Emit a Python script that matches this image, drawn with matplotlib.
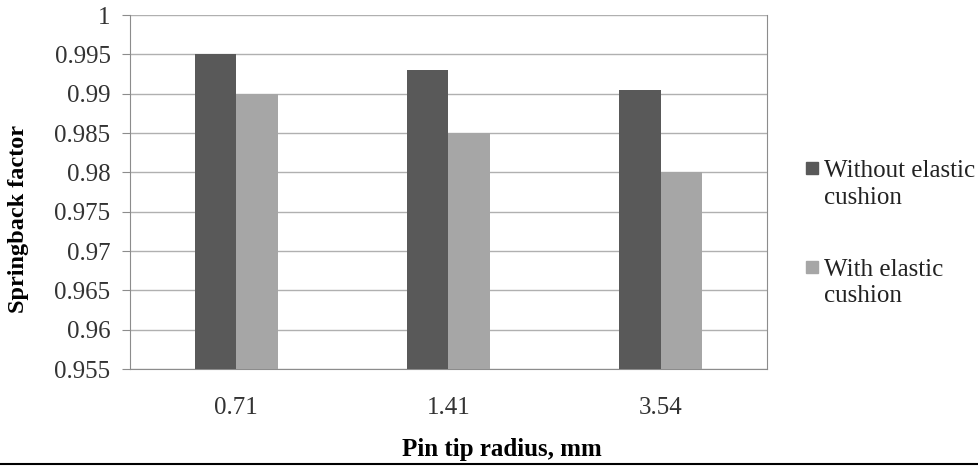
import numpy as np
import matplotlib.pyplot as plt
from matplotlib.patches import Rectangle

categories = ["0.71", "1.41", "3.54"]
without_cushion = [0.995, 0.993, 0.9905]
with_cushion = [0.990, 0.985, 0.980]
series_labels = ["Without elastic\ncushion", "With elastic\ncushion"]
series_colors = ['#595959', '#a6a6a6']

plt.rcParams['font.family'] = ['Liberation Serif', 'DejaVu Serif']

W, H = 979, 466
fig = plt.figure(figsize=(W / 100, H / 100), dpi=100)
ax = fig.add_axes([130 / W, 1 - 369 / H, 637 / W, 354 / H])

x = np.arange(len(categories))
width = 0.195

ax.bar(x - width / 2, without_cushion, width, color=series_colors[0], zorder=3)
ax.bar(x + width / 2, with_cushion, width, color=series_colors[1], zorder=3)

ax.set_xlim(-0.5, 2.5)
ax.set_ylim(0.955, 1.0)
ax.set_yticks(np.arange(0.955, 1.0001, 0.005))
ax.set_yticklabels(["0.955", "0.96", "0.965", "0.97", "0.975", "0.98", "0.985", "0.99", "0.995", "1"])
ax.set_xticks(x)
ax.set_xticklabels(categories)

ax.yaxis.grid(True, color='#b0b0b0', linewidth=1, zorder=0)
for side in ['left', 'right', 'top', 'bottom']:
    ax.spines[side].set_color('#8c8c8c')
ax.spines['top'].set_visible(False)

ax.tick_params(axis='y', labelsize=18, length=6, color='#8c8c8c', pad=8)
ax.tick_params(axis='y', labelcolor='#333333')
ax.tick_params(axis='x', labelsize=18, length=0, pad=20, labelcolor='#333333')

ax.set_ylabel("Springback factor", fontsize=17.5, fontweight='bold')
ax.yaxis.set_label_coords((29 - 130) / 637, (369 - 219) / 354)
ax.set_xlabel("Pin tip radius, mm", fontsize=18, fontweight='bold')
ax.xaxis.set_label_coords((502 - 130) / 637, (369 - 438) / 354)

# legend, drawn by hand so the square sits beside the first line
legend_rows = [168, 267]
for label, color, yc in zip(series_labels, series_colors, legend_rows):
    fig.add_artist(Rectangle((806 / W, 1 - (yc + 6) / H), 12 / W, 12 / H,
                             transform=fig.transFigure, color=color))
    for i, line in enumerate(label.split("\n")):
        fig.text(824 / W, 1 - (yc + 9 + 26.5 * i) / H, line, fontsize=18,
                 va='baseline', ha='left', color='#222222')

# bottom rule across the figure
fig.add_artist(plt.Line2D([0, 1], [1 - 464 / H, 1 - 464 / H], color='black', linewidth=1.5))

fig.savefig("out.png", dpi=100)
